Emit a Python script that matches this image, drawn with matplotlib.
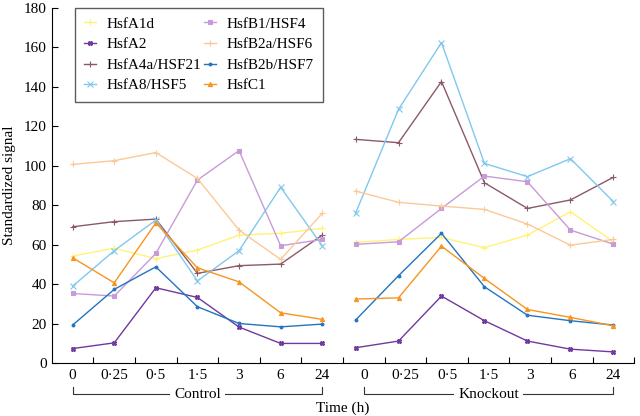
import matplotlib
matplotlib.use("Agg")
import matplotlib.pyplot as plt
import matplotlib.transforms as mtransforms
import numpy as np

plt.rcParams['font.family'] = ['Liberation Serif', 'DejaVu Serif']

times = ['0', '0·25', '0·5', '1·5', '3', '6', '24']
genes = ['HsfA1d', 'HsfA2', 'HsfA4a/HSF21', 'HsfA8/HSF5',
         'HsfB1/HSF4', 'HsfB2a/HSF6', 'HsfB2b/HSF7', 'HsfC1']

control = {
    'HsfA1d':       [54.3, 58.2, 53.0, 57.3, 64.9, 65.8, 68.3],
    'HsfA2':        [7.4, 10.3, 38.2, 33.3, 18.3, 10.0, 10.0],
    'HsfA4a/HSF21': [69.1, 71.7, 73.0, 45.5, 49.4, 50.2, 64.9],
    'HsfA8/HSF5':   [39.0, 57.0, 72.5, 41.7, 57.0, 89.1, 59.5],
    'HsfB1/HSF4':   [35.3, 34.0, 55.6, 92.8, 107.7, 59.5, 62.7],
    'HsfB2a/HSF6':  [100.7, 102.6, 106.7, 93.6, 67.4, 52.6, 75.9],
    'HsfB2b/HSF7':  [19.3, 37.4, 48.8, 28.6, 20.1, 18.4, 19.8],
    'HsfC1':        [53.4, 40.7, 71.1, 48.3, 41.2, 25.5, 22.2],
}
knockout = {
    'HsfA1d':       [61.2, 62.7, 63.7, 58.5, 64.9, 76.7, 61.5],
    'HsfA2':        [7.8, 11.2, 34.0, 21.5, 11.2, 7.1, 5.7],
    'HsfA4a/HSF21': [113.4, 111.7, 142.7, 91.4, 78.4, 82.7, 94.2],
    'HsfA8/HSF5':   [75.9, 128.6, 162.4, 101.2, 94.5, 103.6, 81.8],
    'HsfB1/HSF4':   [60.2, 61.5, 78.4, 94.8, 91.9, 67.4, 60.3],
    'HsfB2a/HSF6':  [87.2, 81.5, 79.6, 77.9, 70.5, 59.8, 62.7],
    'HsfB2b/HSF7':  [21.8, 44.3, 65.8, 38.7, 24.3, 21.5, 19.3],
    'HsfC1':        [32.5, 33.1, 59.3, 42.9, 27.2, 23.2, 18.9],
}

colors = {
    'HsfA1d': '#fff27a', 'HsfA2': '#6e3a9e', 'HsfA4a/HSF21': '#8a5a66',
    'HsfA8/HSF5': '#80c8ee', 'HsfB1/HSF4': '#c99ad9', 'HsfB2a/HSF6': '#fbc999',
    'HsfB2b/HSF7': '#2474c0', 'HsfC1': '#f7951f',
}
markers = {
    'HsfA1d': '+', 'HsfA2': 'X', 'HsfA4a/HSF21': '+', 'HsfA8/HSF5': 'x',
    'HsfB1/HSF4': 's', 'HsfB2a/HSF6': '+', 'HsfB2b/HSF7': '.', 'HsfC1': '^',
}

fig = plt.figure(figsize=(6.4, 4.16), dpi=100)
ax = fig.add_axes([0.081, 0.127, 0.91, 0.854])

x_ctrl = np.arange(7)
x_ko = np.linspace(6.8, 13.0, 7)

for g in genes:
    ms = 3.0 if markers[g] in ('s', '^', 'X') else 4.0
    ax.plot(x_ctrl, control[g], color=colors[g], marker=markers[g], ms=ms,
            lw=1.0, mew=0.8, label=g)
    ax.plot(x_ko, knockout[g], color=colors[g], marker=markers[g], ms=ms,
            lw=1.0, mew=0.8)

ax.set_xlim(-0.5, 13.5)
ax.set_ylim(0, 180)
ax.set_yticks(range(0, 181, 20))
ax.set_xticks(np.arange(14))
ax.set_xticklabels(times + times)
ax.set_xticks(np.arange(0.5, 13.6, 1), minor=True)
ax.tick_params(axis='x', which='major', length=0, labelsize=11, pad=4)
ax.tick_params(axis='x', which='minor', direction='in', length=4, width=0.8)
ax.tick_params(axis='y', direction='in', length=4, width=0.8, labelsize=11)
ax.spines['top'].set_visible(False)
ax.spines['right'].set_visible(False)
for s in ('left', 'bottom'):
    ax.spines[s].set_linewidth(0.8)

ax.set_ylabel('Standardized signal', fontsize=11, labelpad=6)
ax.set_xlabel('Time (h)', fontsize=11, labelpad=14)

# group brackets under the tick labels
trans = mtransforms.blended_transform_factory(ax.transData, ax.transAxes)
yb, yt = -0.087, -0.068
for x0, x1, name in [(0, 6, 'Control'), (7, 13, 'Knockout')]:
    ax.plot([x0, x0, x1, x1], [yt, yb, yb, yt], color='#333333', lw=0.8,
            transform=trans, clip_on=False)
    ax.text((x0 + x1) / 2, yb, name, transform=trans, ha='center', va='center',
            fontsize=11, bbox=dict(facecolor='white', edgecolor='none', pad=3))

leg = ax.legend(loc='upper left', bbox_to_anchor=(0.04, 1.0), ncol=2,
                fontsize=11, frameon=True, fancybox=False, borderaxespad=0,
                handlelength=0.75, handletextpad=0.7, columnspacing=0.2,
                labelspacing=0.45, borderpad=0.6)
leg.get_frame().set_edgecolor('#333333')
leg.get_frame().set_linewidth(1.0)

fig.savefig('out.png', dpi=100)
